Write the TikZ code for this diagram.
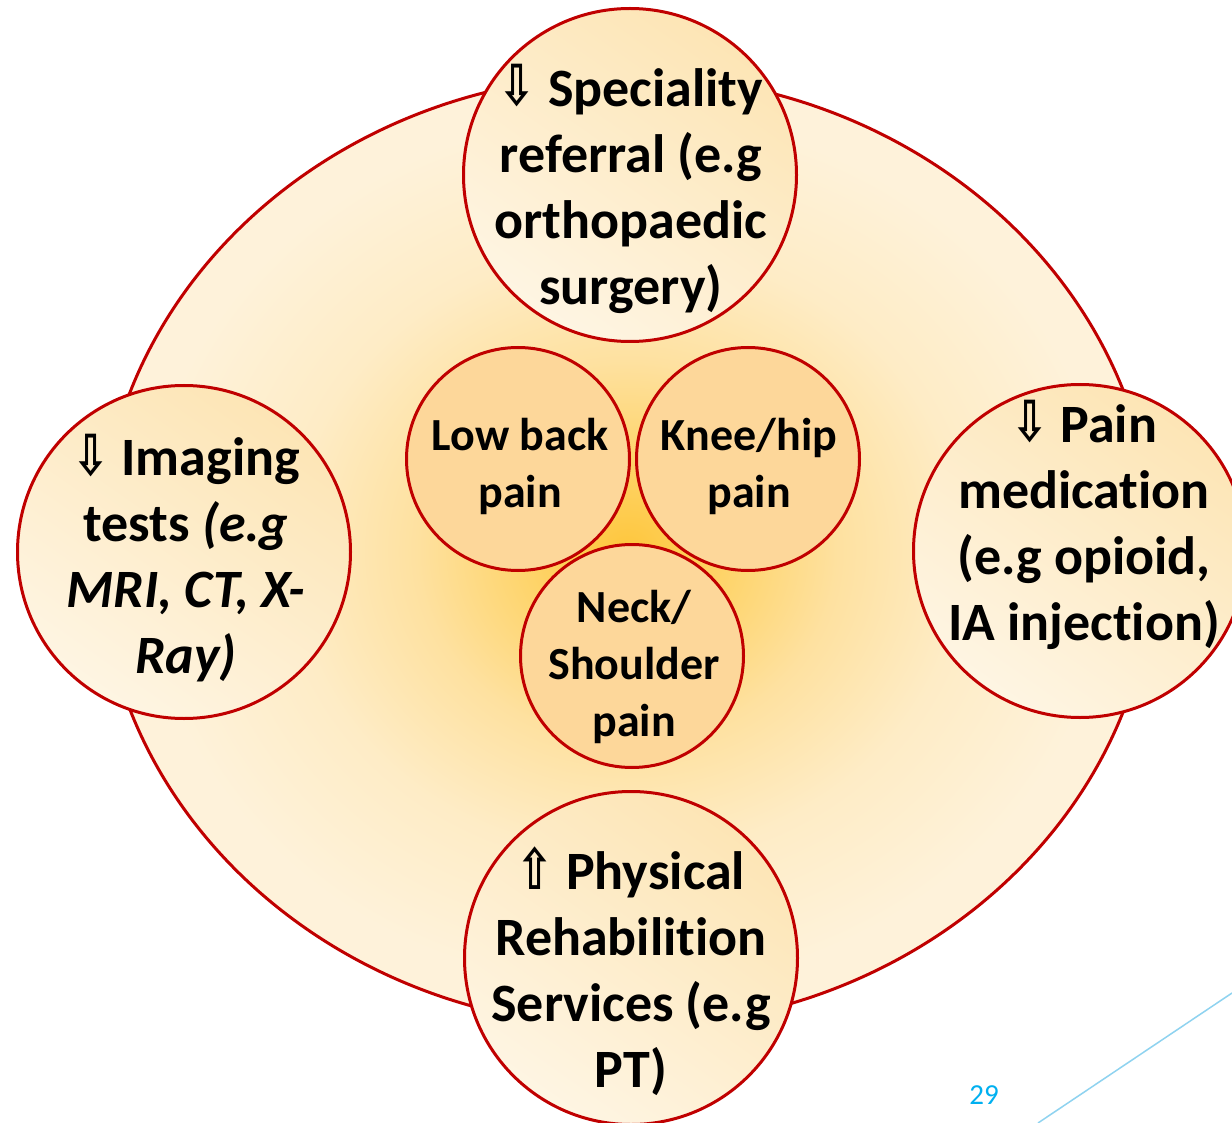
\documentclass[tikz,border=0pt]{standalone}
\usepackage{fontspec}
\setmainfont{Carlito}[RawFeature={-liga;-clig;-dlig}]
\newfontfamily\arrfont{DejaVu Sans Bold}
\usepackage{graphicx}
\usetikzlibrary{shapes.geometric}
\definecolor{redc}{HTML}{C00000}
\definecolor{glowA}{HTML}{FEC63C}
\definecolor{glowB}{HTML}{FED262}
\definecolor{glowC}{HTML}{FEE1A0}
\definecolor{glowD}{HTML}{FEECC6}
\definecolor{glowE}{HTML}{FEF2DA}
\definecolor{satA}{HTML}{FDE5B5}
\definecolor{satB}{HTML}{FEF5E3}
\definecolor{innerc}{HTML}{FDD79A}
\definecolor{bluec}{HTML}{00B0F0}
\definecolor{linec}{HTML}{8FD3F0}
\pgfdeclareradialshading{glow}{\pgfpoint{0bp}{0bp}}{color(0bp)=(glowA); color(4bp)=(glowB); color(10bp)=(glowC); color(16bp)=(glowD); color(23bp)=(glowE); color(50bp)=(glowE)}
\newcommand{\dnarr}{\raisebox{0.01em}{\scalebox{0.82}[1.05]{\arrfont ⇩}}}
\newcommand{\uparr}{\raisebox{0.01em}{\scalebox{0.82}[1.05]{\arrfont ⇧}}}
\tikzset{
  bigell/.style={ellipse, draw=redc, line width=3pt, minimum width=1054pt, minimum height=952pt, inner sep=0pt, shade, shading=glow},
  sat/.style={circle, draw=redc, line width=3pt, minimum size=333pt, inner sep=0pt, top color=satA, bottom color=satB, shading angle=-35},
  inner/.style={circle, draw=redc, line width=3pt, fill=innerc, minimum size=223pt, inner sep=0pt},
  sattext/.style={align=center, font=\bfseries\fontsize{54}{66}\selectfont, inner sep=0pt},
  innertext/.style={align=center, font=\bfseries\fontsize{46}{57}\selectfont, inner sep=0pt},
}
\begin{document}
\begin{tikzpicture}[x=1pt,y=-1pt]
\clip (0,0) rectangle (1232,1123);
\fill[white] (0,0) rectangle (1232,1123);
\node[bigell] (big) at (627,551) {};
\node[sat] (spec) at (630,175) {};
\node[sat] (img) at (184,552) {};
\node[sat] (pain) at (1080,551) {};
\node[sat] (phys) at (631,958) {};
\node[inner] (lbp) at (518,459) {};
\node[inner] (knee) at (748,459) {};
\node[inner] (neck) at (632,656) {};
\node[sattext] (specT) at (631,189) {\dnarr\ Speciality\\referral (e.g\\orthopaedic\\surgery)};
\node[sattext] (imgT) at (186,558) {\dnarr\ Imaging\\tests \textit{(e.g}\\\textit{MRI, CT, X-}\\\textit{Ray)}};
\node[sattext] (painT) at (1084,525) {\dnarr\ Pain\\medication\\(e.g opioid,\\IA injection)};
\node[sattext] (physT) at (631,971) {\uparr\ Physical\\Rehabilition\\Services (e.g\\PT)};
\node[innertext] (lbpT) at (520,466) {Low back\\pain};
\node[innertext] (kneeT) at (749,466) {Knee/hip\\pain};
\node[innertext] (neckT) at (634,667) {Neck/\\Shoulder\\pain};
\coordinate (l1) at (1038,1123);
\coordinate (l2) at (1232,993);
\draw[linec, line width=1.5pt] (l1) -- (l2);
\node[text=bluec, font=\fontsize{29}{34}\selectfont, inner sep=0pt] (pg) at (984,1095) {29};
\end{tikzpicture}
\end{document}
